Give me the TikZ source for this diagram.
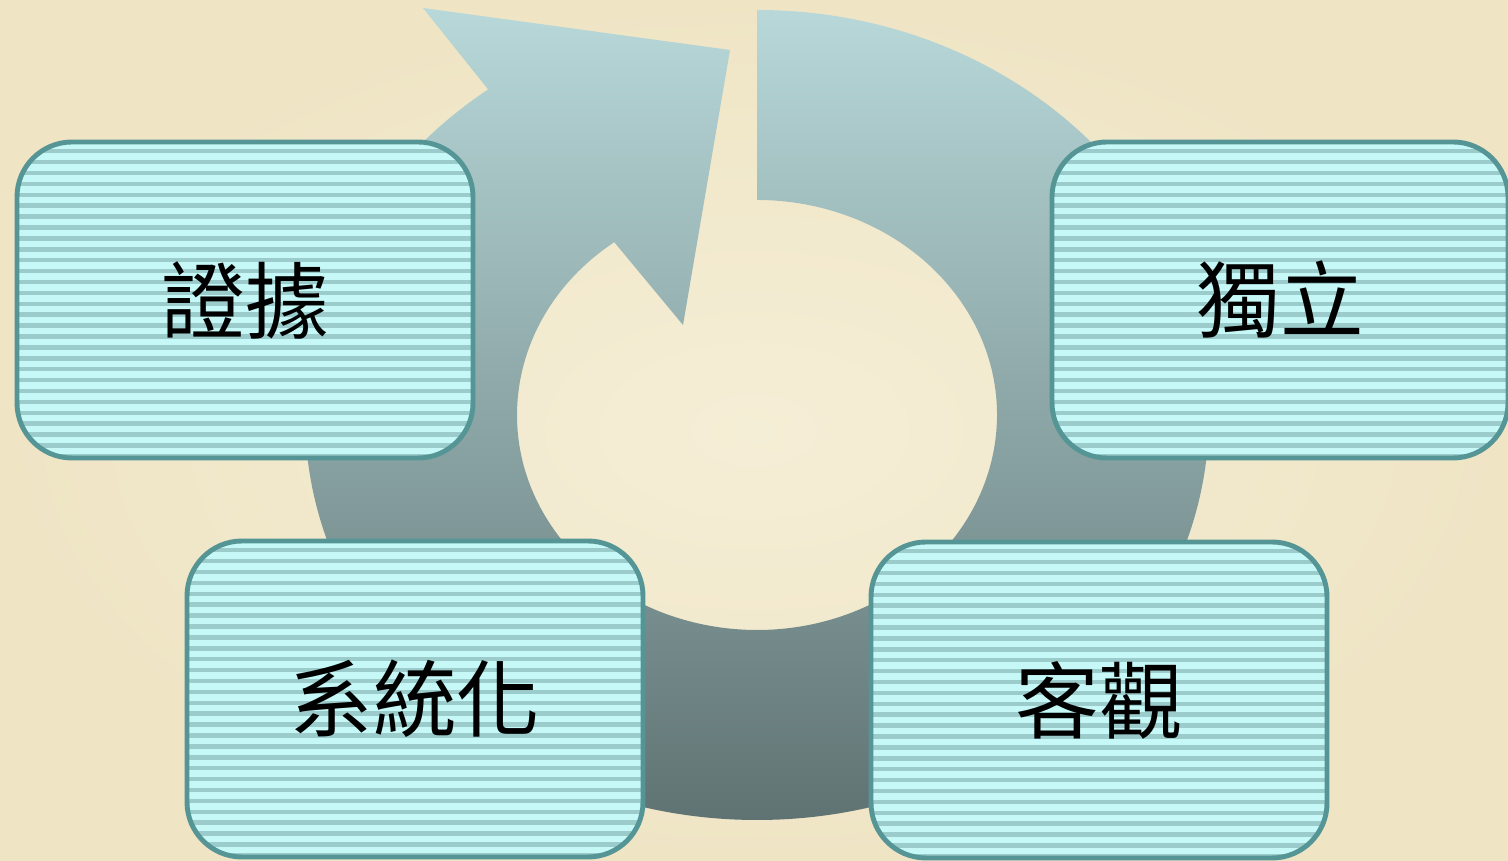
\documentclass[tikz,border=0pt]{standalone}
\usepackage{fontspec}
\newfontfamily\cjk{Noto Sans CJK TC}
\usetikzlibrary{calc,math}

\definecolor{paperlt}{HTML}{F5EED6}
\definecolor{paperdk}{HTML}{EFE5C5}
\definecolor{ringtop}{HTML}{B8D8D9}
\definecolor{ringbot}{HTML}{607373}
\definecolor{cardedge}{HTML}{559595}
\definecolor{stripelt}{HTML}{C6F8F8}
\definecolor{stripedk}{HTML}{9BCBCB}

\tikzset{
  card/.style={draw=cardedge, line width=1.4pt, rounded corners=5.5mm, fill=stripelt,
    minimum width=4.56cm, minimum height=3.16cm, inner sep=0pt,
    font=\cjk\fontsize{23.8pt}{28pt}\selectfont,
    path picture={
      \foreach \k in {0,...,29}
        \fill[stripedk, sharp corners] ($(path picture bounding box.north west)+(0,-0.07-0.109*\k)$)
          rectangle ($(path picture bounding box.north east)+(0,-0.115-0.109*\k)$);
    }}
}

\begin{document}
\begin{tikzpicture}
    \tikzmath{ \rx=4.52; \ry=4.05; \sx=2.40; \sy=2.15; \t=126.5; }
    \useasboundingbox (0,0) rectangle (15.08,8.61);
    \shade[inner color=paperlt, outer color=paperdk] (0,0) rectangle (15.08,8.61);
    \coordinate (O) at (7.57,4.46);
    \coordinate (T) at (4.23,8.53);
    \coordinate (P) at (7.30,8.11);
    \coordinate (Q) at (6.83,5.36);
    \shade[top color=ringtop, bottom color=ringbot]
        ($(O)+(0,\ry)$) arc[start angle=90, end angle=-233.5, x radius=\rx, y radius=\ry]
        -- (T) -- (P) -- (Q)
        -- ($(O)+({\sx*cos(\t)},{\sy*sin(\t)})$) arc[start angle=\t, end angle=450, x radius=\sx, y radius=\sy]
        -- cycle;
    \node[card] (evid) at (2.45,5.61) {證據};
    \node[card] (indep) at (12.80,5.61) {獨立};
    \node[card] (syst) at (4.15,1.62) {系統化};
    \node[card] (objv) at (10.99,1.61) {客觀};
\end{tikzpicture}
\end{document}
